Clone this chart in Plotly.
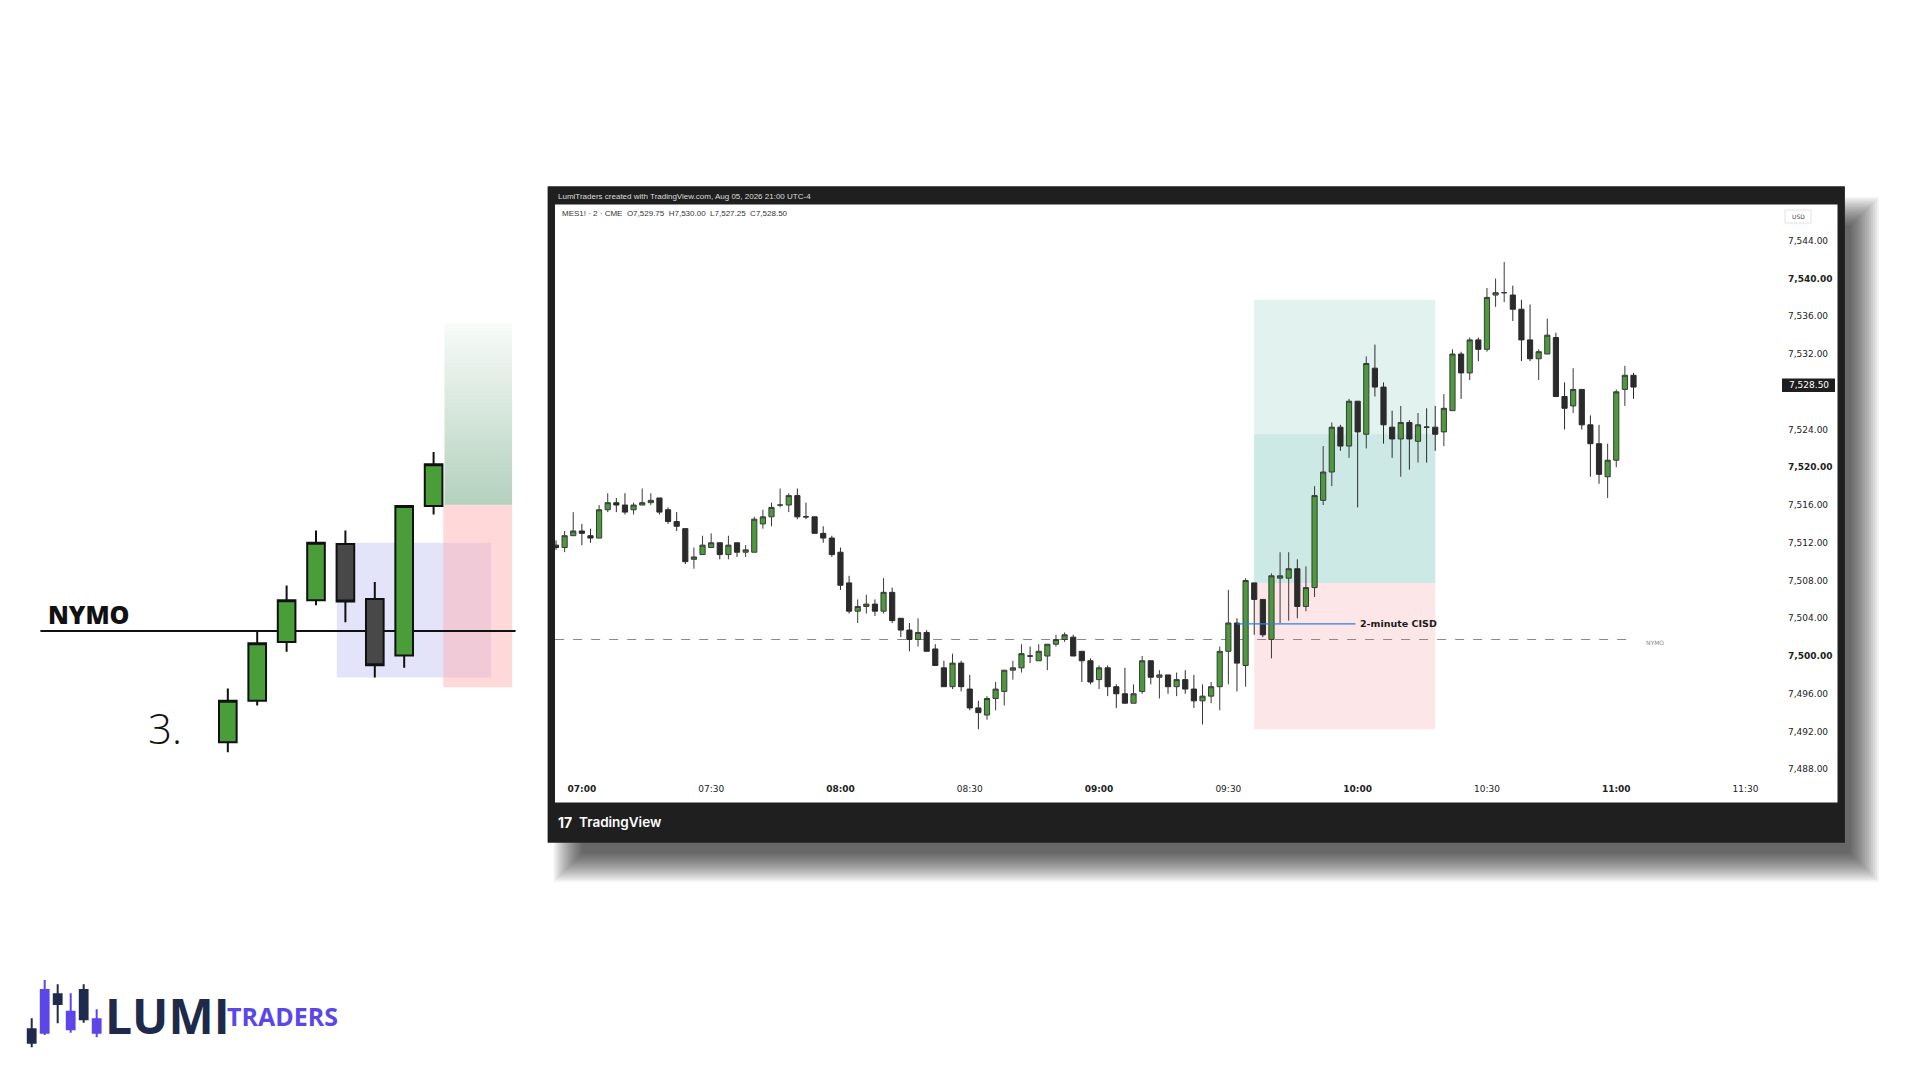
import plotly.graph_objects as go

# --- main chart data: MES1! 2-minute bars, 06:54 -> 11:04 (minutes from 07:00) ---
opens = [7511.75, 7511.5, 7512.75, 7513.25, 7512.75, 7512.5, 7515.5, 7516.25, 7516, 7515.5,
         7516, 7516.25, 7516.75, 7515.5, 7514.25, 7513.5, 7510.25, 7510.75, 7511.5, 7512,
         7510.75, 7512, 7511, 7511, 7514, 7514.75, 7516, 7516, 7517, 7514.75,
         7514.75, 7513, 7512.5, 7511, 7507.75, 7504.75, 7505.25, 7505.5, 7504.75, 7506.75,
         7504, 7502.75, 7501.75, 7502.5, 7500.75, 7498.75, 7496.75, 7499.25, 7496.5, 7494.5,
         7493.75, 7495.5, 7496.25, 7498.5, 7498.75, 7500, 7499.5, 7500, 7501.25, 7501.75,
         7502, 7500.5, 7499.5, 7497.5, 7498.75, 7496.75, 7496, 7495, 7496.25, 7499.5,
         7497.75, 7498, 7496.75, 7497.5, 7496.5, 7495.25, 7495.75, 7496.75, 7500.5, 7503.5,
         7499, 7507.75, 7506, 7501.75, 7508.25, 7508.25, 7509.25, 7505.25, 7507.25, 7516.5,
         7519.5, 7524.25, 7522.25, 7527, 7523.5, 7530.5, 7528.5, 7524.25, 7523, 7524.75,
         7522.75, 7524.25, 7524.25, 7523.75, 7526, 7532, 7530, 7533.5, 7532.5, 7538.25,
         7538.5, 7538.25, 7536.75, 7533.5, 7531.5, 7532, 7533.75, 7527.5, 7526.5, 7528.25,
         7524.5, 7522.5, 7519, 7520.75, 7528.25, 7529.75]
highs = [7512.25, 7513.25, 7515.25, 7514, 7513.5, 7516, 7517.25, 7516.75, 7517.25, 7516.25,
         7517.75, 7517.25, 7516.75, 7515.75, 7515.25, 7513.5, 7511.5, 7512.75, 7513, 7512,
         7512.75, 7512, 7511.75, 7514.75, 7515.5, 7516.25, 7517.75, 7517.25, 7517.75, 7516.25,
         7514.75, 7513.75, 7512.75, 7511.5, 7508.5, 7506, 7506.5, 7506, 7508.25, 7507.25,
         7504, 7503.5, 7504, 7502.75, 7501.25, 7499.5, 7500.25, 7499.5, 7498, 7495.25,
         7495.75, 7497.25, 7498.5, 7499.5, 7501.25, 7501, 7501.25, 7501.25, 7502.25, 7502.5,
         7502.25, 7500.5, 7499.75, 7499, 7499, 7497, 7498.75, 7497, 7500, 7499.5,
         7498.5, 7498, 7498.25, 7498.5, 7498, 7497, 7497.25, 7501, 7507, 7504,
         7508.25, 7507.75, 7506, 7508.75, 7511, 7511, 7510.25, 7509.5, 7518, 7522.25,
         7524.75, 7524.5, 7527.25, 7527, 7531.75, 7533, 7529, 7526, 7526.5, 7525,
         7525.75, 7526.25, 7526.5, 7527.75, 7532.5, 7532.25, 7533.75, 7533.75, 7539, 7540,
         7541.75, 7539.25, 7537.75, 7537.25, 7532.5, 7535.75, 7534.25, 7529, 7530.5, 7528.25,
         7525.5, 7524.5, 7522.5, 7528.25, 7530.75, 7530]
lows = [7511.25, 7511, 7512.75, 7511.75, 7512, 7512.5, 7515.25, 7515.25, 7515, 7515,
        7516, 7516, 7515, 7514, 7513.25, 7509.75, 7509.25, 7510.75, 7511.5, 7510.25,
        7510.25, 7510.5, 7510.5, 7511, 7513.5, 7513.75, 7515.75, 7515.25, 7514.5, 7514.5,
        7513, 7512, 7510.5, 7507, 7504.5, 7503.5, 7504.5, 7504.25, 7504.5, 7503.5,
        7502, 7500.5, 7501, 7500.5, 7499, 7496.75, 7496.5, 7496.25, 7494.25, 7492.25,
        7493.25, 7494.25, 7494.75, 7497.5, 7498.25, 7499.25, 7499.5, 7498.5, 7501, 7501.5,
        7500, 7497.25, 7497, 7496.5, 7495.75, 7494.5, 7495, 7495, 7496, 7497,
        7495.5, 7496, 7495.75, 7496, 7494.5, 7492.75, 7495, 7494.25, 7497, 7496.25,
        7496.75, 7502.25, 7502, 7499.75, 7503.5, 7503.75, 7504, 7504.75, 7506.25, 7516,
        7518, 7521.75, 7521, 7515.75, 7522, 7527.5, 7522.5, 7521, 7519, 7519.75,
        7520.5, 7520.5, 7521.75, 7522.25, 7526, 7527.25, 7529.25, 7531.25, 7532.25, 7537,
        7537.5, 7535.5, 7531.25, 7531.25, 7529.25, 7532, 7527.5, 7524, 7525.75, 7524,
        7519, 7518.25, 7516.75, 7520, 7526.5, 7527.25]
closes = [7511.5, 7512.75, 7513.25, 7513, 7512.5, 7515.5, 7516.25, 7516, 7515.25, 7516,
          7516.25, 7516.5, 7515.25, 7514.25, 7513.75, 7510, 7510.5, 7511.75, 7512, 7510.75,
          7511.75, 7511, 7511.25, 7514.5, 7514.75, 7515.75, 7516, 7517, 7514.75, 7514.75,
          7513, 7512.5, 7510.75, 7507.5, 7504.75, 7505.25, 7505.5, 7504.75, 7506.75, 7503.75,
          7502.75, 7501.75, 7502.5, 7500.5, 7499, 7496.75, 7499.25, 7496.75, 7494.5, 7494,
          7495.5, 7496.5, 7498.5, 7498.75, 7500.25, 7500, 7500.5, 7501.25, 7501.75, 7502.25,
          7500, 7499.5, 7497.25, 7498.75, 7496.75, 7496, 7495, 7496, 7499.5, 7497.75,
          7498, 7496.75, 7497.5, 7496.5, 7495.25, 7495.75, 7496.75, 7500.5, 7503.5, 7499.25,
          7508, 7506, 7502.25, 7508.5, 7508.5, 7509.25, 7505.25, 7507.25, 7517, 7519.5,
          7524.25, 7522.25, 7527, 7523.75, 7531, 7528.5, 7524.5, 7523, 7524.75, 7523,
          7524.5, 7524.25, 7523.5, 7526.25, 7532, 7530, 7533.5, 7532.5, 7538, 7538.5,
          7538.5, 7536.75, 7533.5, 7531.5, 7532.25, 7534, 7527.5, 7526.25, 7528.25, 7524.5,
          7522.5, 7519.25, 7520.75, 7528, 7529.75, 7528.5]
bar_minutes = [-6 + 2 * i for i in range(len(opens))]

time_ticks = [0, 30, 60, 90, 120, 150, 180, 210, 240, 270]
time_labels = ["<b>07:00</b>", "07:30", "<b>08:00</b>", "08:30", "<b>09:00</b>", "09:30",
               "<b>10:00</b>", "10:30", "<b>11:00</b>", "11:30"]
# 7,528 is hidden behind the last-price label
price_ticks = [7488, 7492, 7496, 7500, 7504, 7508, 7512, 7516, 7520, 7524, 7532, 7536, 7540, 7544]
price_labels = [("<b>%s</b>" if p % 20 == 0 else "%s") % f"{p:,.2f}" for p in price_ticks]

nymo_level = 7501.75
cisd_level = 7503.4
entry, target, stop, mid_zone = 7507.75, 7537.75, 7492.25, 7523.5
zone_start, zone_end = 156, 198
last_price = 7528.50

# --- left schematic (abstract units, NYMO = 100) ---
demo_x = [1, 2, 3, 4, 5, 6, 7, 8]
demo_open = [54.5, 71.5, 95.5, 112.5, 135.5, 113, 90, 151]
demo_high = [76.5, 99.5, 118.5, 141, 141, 120, 151, 173]
demo_low = [50.5, 69.5, 91.5, 110.5, 103.5, 81, 85, 147.5]
demo_close = [71.5, 95, 112.5, 136, 112, 86, 151, 168]

# --- logo candles ---
logo_x = [1, 2, 3, 4, 5, 6]
logo_open = [72, 62, 177, 72, 190, 62]
logo_high = [105, 220, 207, 180, 207, 132]
logo_low = [18, 55, 90, 62, 92, 48]
logo_close = [32, 190, 148, 125, 102, 102]

# page body keeps its default 8px margin, so the figure is drawn 8px in
OFF = 8
W, H = 1920 - OFF, 1080 - OFF


def px(x):
    return (x - OFF) / W


def py(y):
    return 1 - (y - OFF) / H


fig = go.Figure()

# schematic target zone with a soft gradient
fig.add_trace(go.Scatter(
    x=[8.37, 10.67, 10.67, 8.37, 8.37], y=[151.5, 151.5, 225.5, 225.5, 151.5],
    xaxis="x2", yaxis="y2", mode="lines", line=dict(width=0), fill="toself",
    fillgradient=dict(type="vertical", start=151.5, stop=225.5,
                      colorscale=[[0, "#b3d1bd"], [1, "#f8fbf9"]]),
    hoverinfo="skip"))

fig.add_trace(go.Candlestick(
    x=demo_x, open=demo_open, high=demo_high, low=demo_low, close=demo_close,
    xaxis="x2", yaxis="y2",
    increasing=dict(fillcolor="#4a9e3a", line=dict(color="#111111", width=2)),
    decreasing=dict(fillcolor="#484848", line=dict(color="#111111", width=2)),
    hoverinfo="skip"))

fig.add_trace(go.Candlestick(
    x=bar_minutes, open=opens, high=highs, low=lows, close=closes,
    increasing=dict(fillcolor="#4c9a3c", line=dict(color="#3a3a3a", width=1)),
    decreasing=dict(fillcolor="#2b2b2b", line=dict(color="#2b2b2b", width=1)),
    hoverinfo="skip"))

fig.add_trace(go.Candlestick(
    x=logo_x, open=logo_open, high=logo_high, low=logo_low, close=logo_close,
    xaxis="x3", yaxis="y3",
    increasing=dict(fillcolor="#5b46e8", line=dict(color="#5b46e8", width=2)),
    decreasing=dict(fillcolor="#1f2b4d", line=dict(color="#1f2b4d", width=2)),
    hoverinfo="skip"))

shapes = []
# frame shadow
fx0, fy0, fx1, fy1 = 547.6, 186.2, 1844.9, 842.8
for s in range(-14, 15, 2):
    shapes.append(dict(type="rect", xref="paper", yref="paper", layer="below",
                       x0=px(fx0 + 20 - s), x1=px(fx1 + 20 + s),
                       y0=py(fy1 + 25 + s), y1=py(fy0 + 25 - s),
                       fillcolor="rgba(0,0,0,0.055)", line=dict(width=0)))
shapes.append(dict(type="rect", xref="paper", yref="paper", layer="below",
                   x0=px(fx0), x1=px(fx1), y0=py(fy1), y1=py(fy0),
                   fillcolor="#1f1f1f", line=dict(width=0)))
shapes.append(dict(type="rect", xref="paper", yref="paper", layer="below",
                   x0=px(555), x1=px(1837.5), y0=py(802.4), y1=py(204.6),
                   fillcolor="white", line=dict(width=0)))
# long position zones
shapes.append(dict(type="rect", xref="x", yref="y", layer="below",
                   x0=zone_start, x1=zone_end, y0=entry, y1=target,
                   fillcolor="#e1f2ef", line=dict(width=0)))
shapes.append(dict(type="rect", xref="x", yref="y", layer="below",
                   x0=zone_start, x1=zone_end, y0=entry, y1=mid_zone,
                   fillcolor="#cce9e5", line=dict(width=0)))
shapes.append(dict(type="rect", xref="x", yref="y", layer="below",
                   x0=zone_start, x1=zone_end, y0=stop, y1=entry,
                   fillcolor="#fde6e8", line=dict(width=0)))
shapes.append(dict(type="line", xref="x", yref="y", layer="below",
                   x0=-6.2, x1=bar_minutes[-1], y0=nymo_level, y1=nymo_level,
                   line=dict(color="#8a8a8a", width=1, dash="dash")))
shapes.append(dict(type="line", xref="x", yref="y",
                   x0=152, x1=179.5, y0=cisd_level, y1=cisd_level,
                   line=dict(color="#2f80d8", width=1.3)))
# USD box and last price box
shapes.append(dict(type="rect", xref="paper", yref="paper",
                   x0=px(1785), x1=px(1811), y0=py(223), y1=py(210),
                   fillcolor="white", line=dict(color="#e2e2e2", width=1)))
shapes.append(dict(type="rect", xref="paper", yref="paper",
                   x0=px(1782), x1=px(1835), y0=py(392), y1=py(378.5),
                   fillcolor="#1e1e1e", line=dict(width=0)))
# schematic zones and NYMO line
shapes.append(dict(type="rect", xref="x2", yref="y2", layer="below",
                   x0=4.71, x1=9.96, y0=81, y1=136,
                   fillcolor="rgba(200,200,245,0.5)", line=dict(width=0)))
shapes.append(dict(type="rect", xref="x2", yref="y2", layer="below",
                   x0=8.33, x1=10.67, y0=77, y1=151.5,
                   fillcolor="rgba(255,170,170,0.45)", line=dict(width=0)))
shapes.append(dict(type="line", xref="x2", yref="y2", layer="below",
                   x0=-5.375, x1=10.79, y0=100, y1=100,
                   line=dict(color="#111111", width=2)))

annotations = [
    dict(text="LumiTraders created with TradingView.com, Aug 05, 2026 21:00 UTC-4",
         x=px(556), y=py(196), xanchor="left", yanchor="middle",
         font=dict(family="Liberation Sans", size=8, color="#dcdcdc")),
    dict(text="MES1! · 2 · CME  O7,529.75  H7,530.00  L7,527.25  C7,528.50",
         x=px(560), y=py(214), xanchor="left", yanchor="middle",
         font=dict(family="Liberation Sans", size=8, color="#333333")),
    dict(text="USD", x=px(1798), y=py(216.5), xanchor="center", yanchor="middle",
         font=dict(family="DejaVu Sans", size=6, color="#444444")),
    dict(text=f"{last_price:,.2f}", x=px(1808.5), y=py(385.3), xanchor="center", yanchor="middle",
         font=dict(family="DejaVu Sans", size=9, color="white")),
    dict(text="<b>17</b>", x=px(556), y=py(822), xanchor="left", yanchor="middle",
         font=dict(family="Inter", size=14, color="white")),
    dict(text="TradingView", x=px(577), y=py(822), xanchor="left", yanchor="middle",
         font=dict(family="Inter", size=13.5, color="white", weight=600)),
    dict(text="NYMO", x=px(1644), y=py(642), xanchor="left", yanchor="middle",
         font=dict(family="DejaVu Sans", size=6, color="#8a8a8a")),
    dict(text="2-minute CISD", x=180, y=cisd_level, xref="x", yref="y",
         xanchor="left", yanchor="middle", showarrow=False,
         font=dict(family="DejaVu Sans", size=9.5, color="#1a1a1a", weight=600)),
    dict(text="NYMO", x=px(46), y=py(614), xanchor="left", yanchor="middle",
         font=dict(family="Open Sans", size=25, color="#111111", weight=800)),
    dict(text="3.", x=px(146), y=py(727), xanchor="left", yanchor="middle",
         font=dict(family="Open Sans", size=42, color="#111111", weight=300)),
    dict(text="LUMI", x=px(103), y=py(1015), xanchor="left", yanchor="middle",
         font=dict(family="Open Sans", size=48, color="#1e2a4a", weight=700)),
    dict(text="TRADERS", x=px(225), y=py(1016), xanchor="left", yanchor="middle",
         font=dict(family="Open Sans", size=25, color="#5a47e8", weight=700)),
]
for a in annotations:
    a.setdefault("xref", "paper")
    a.setdefault("yref", "paper")
    a.setdefault("showarrow", False)

# main axes mapping (px per point 9.437, px per minute 4.31)
x_left, x_right = 555, 1787
y_top, y_bottom = 204.6, 782
x_range = [-6 - (556 - x_left) / 4.31, -6 + (x_right - 556) / 4.31]
y_range = [7544 - (y_bottom - 240.8) / 9.437, 7544 - (y_top - 240.8) / 9.437]

fig.update_layout(
    width=W, height=H, margin=dict(l=0, r=0, t=0, b=0),
    paper_bgcolor="white", plot_bgcolor="rgba(0,0,0,0)",
    showlegend=False, boxgap=0.4, boxgroupgap=0, hovermode=False,
    shapes=shapes, annotations=annotations,
    xaxis=dict(domain=[px(x_left), px(x_right)], range=x_range,
               rangeslider=dict(visible=False), showgrid=False, zeroline=False,
               showline=False, ticks="", tickmode="array",
               tickvals=time_ticks, ticktext=time_labels,
               tickfont=dict(family="DejaVu Sans", size=9, color="#222222")),
    yaxis=dict(domain=[py(y_bottom), py(y_top)], range=y_range, side="right",
               showgrid=False, zeroline=False, showline=False, ticks="",
               tickmode="array", tickvals=price_ticks, ticktext=price_labels,
               tickfont=dict(family="DejaVu Sans", size=9, color="#222222")),
    xaxis2=dict(domain=[0, px(540)], range=[-6.75 + 8 / 29.4, 11.62], anchor="y2",
                rangeslider=dict(visible=False), visible=False),
    yaxis2=dict(domain=[py(780), py(300)], range=[39.14, 235.06], anchor="x2",
                visible=False),
    xaxis3=dict(domain=[px(20), px(105)], range=[0.1, 6.64], anchor="y3",
                rangeslider=dict(visible=False), visible=False),
    yaxis3=dict(domain=[py(1055), py(975)], range=[-5, 235], anchor="x3",
                visible=False),
)

fig.write_html("out.html")
